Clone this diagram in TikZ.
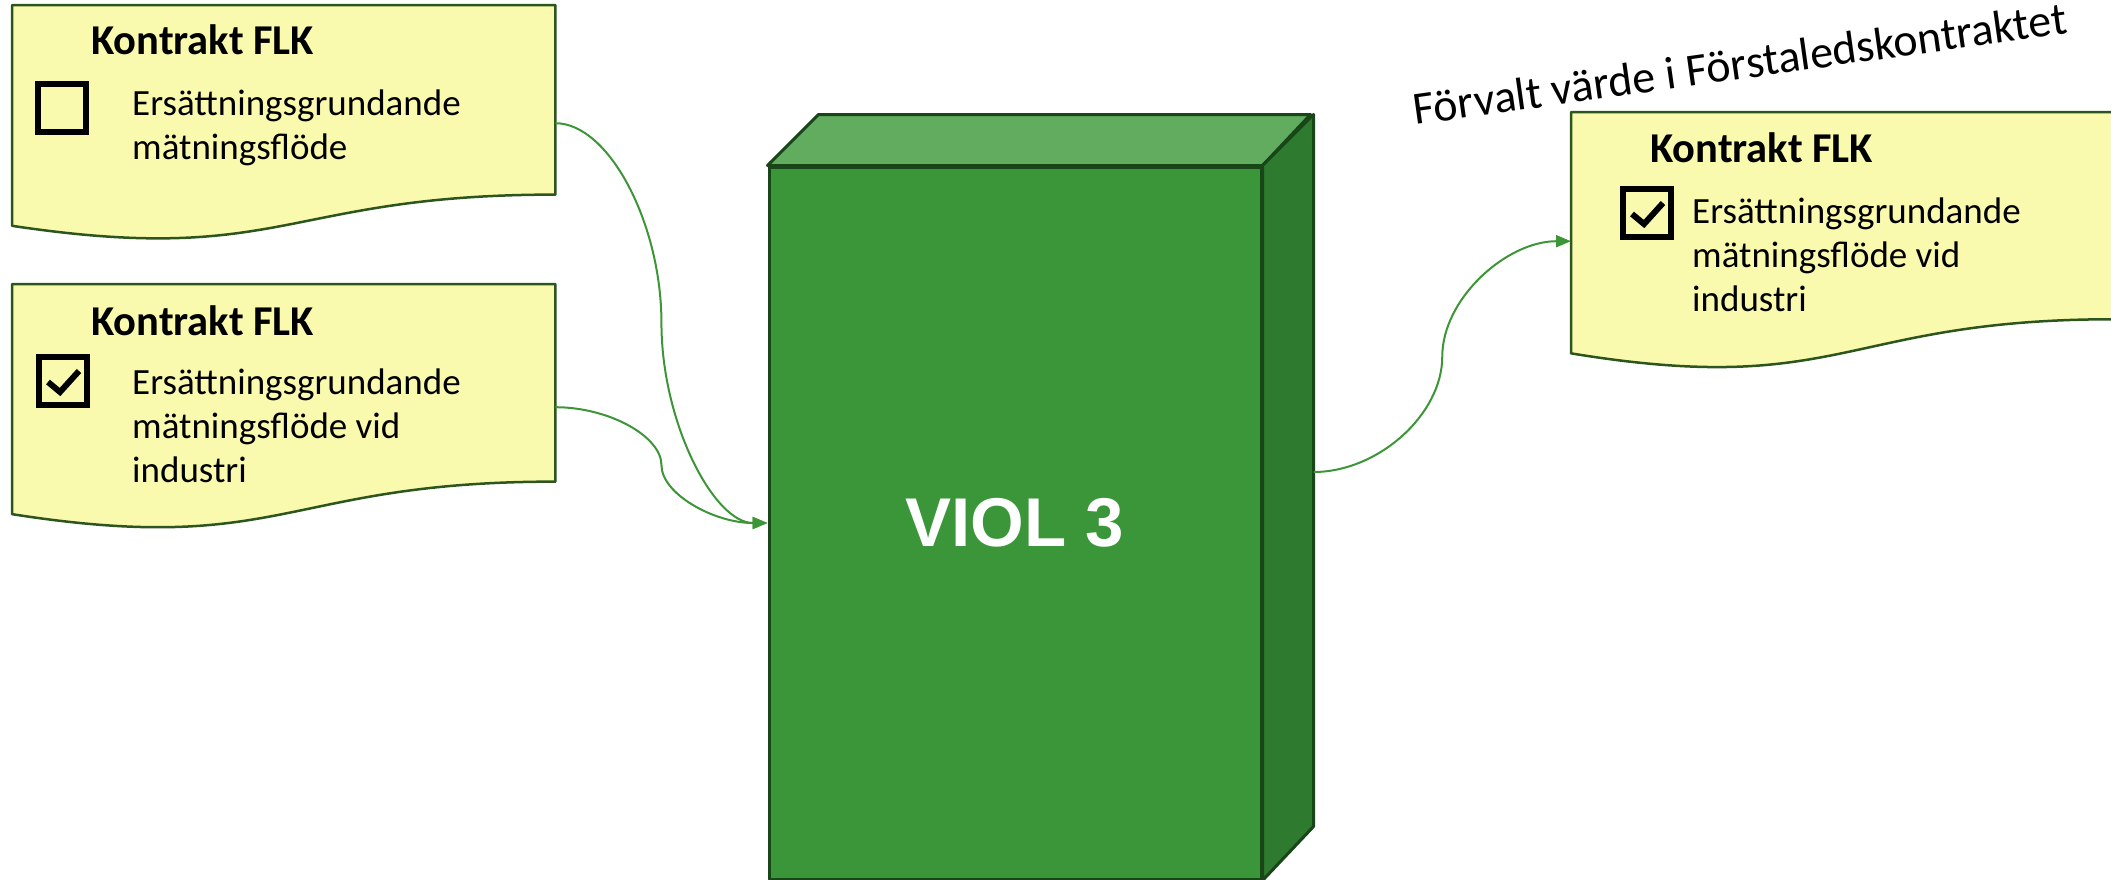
\documentclass[tikz,border=0pt]{standalone}
\usepackage{fontspec}
\setmainfont{Carlito}
\newfontfamily\arialfont{Liberation Sans}
\usetikzlibrary{arrows.meta,calc,positioning}

\definecolor{docfill}{RGB}{250,250,175}
\definecolor{docedge}{RGB}{45,85,30}
\definecolor{frontgreen}{RGB}{59,150,58}
\definecolor{topgreen}{RGB}{98,172,95}
\definecolor{sidegreen}{RGB}{46,122,46}
\definecolor{cubeedge}{RGB}{25,70,25}
\definecolor{linkgreen}{RGB}{60,150,55}

\begin{document}
\begin{tikzpicture}[x=1pt,y=-1pt, %
    docbox/.style={rectangle, draw=none, minimum width=543pt, inner sep=0pt, anchor=north west},
    docline/.style={draw=docedge, fill=docfill, line width=2.5pt, line join=round},
    head/.style={font=\bfseries\fontsize{42.5pt}{50pt}\selectfont, inner sep=0pt, anchor=base west},
    body/.style={font=\fontsize{37pt}{44pt}\selectfont, align=left, inner sep=0pt, anchor=base west},
    chkbox/.style={draw=black, line width=6.5pt, minimum size=48pt, inner sep=0pt},
    tick/.style={draw=black, line width=6pt},
    cubeface/.style={draw=cubeedge, line width=3pt, line join=round},
    conn/.style={draw=linkgreen, line width=2pt, -{Triangle[length=15pt,width=12pt]}}
  ]
  \useasboundingbox (0,0) rectangle (2111,879);

  % documents
  \node[docbox, minimum height=236pt] (doc1) at (12,5) {};
  \node[docbox, minimum height=246pt] (doc2) at (12,284) {};
  \node[docbox, minimum height=258pt] (doc3) at (1571,112) {};
  \foreach \d in {doc1,doc2,doc3}
    \draw[docline] (\d.north west) -- (\d.north east)
      -- ($(\d.north east)!0.802!(\d.south east)$)
      .. controls ($(\d.north)!0.802!(\d.south)$) and ($(\d.north)!1.107!(\d.south)$)
      .. ($(\d.north west)!0.934!(\d.south west)$) -- cycle;

  % base of a text block = its last line
  \node[head] (head1) at (91,54) {Kontrakt FLK};
  \node[chkbox] (box1) at (62,108) {};
  \node[body] (text1) at (132,159) {Ersättningsgrundande\\mätningsflöde};

  \node[head] (head2) at (91,335) {Kontrakt FLK};
  \node[chkbox] (box2) at (63,381) {};
  \draw[tick] ($(box2.center)+(-15,1)$) -- ++(12,10) -- ++(19,-21);
  \node[body] (text2) at (132,482) {Ersättningsgrundande\\mätningsflöde vid\\industri};

  \node[head] (head3) at (1650,162) {Kontrakt FLK};
  \node[chkbox] (box3) at (1647,213) {};
  \draw[tick] ($(box3.center)+(-15,1)$) -- ++(12,10) -- ++(19,-21);
  \node[body] (text3) at (1692,311) {Ersättningsgrundande\\mätningsflöde vid\\industri};

  \node[rotate=8, font=\fontsize{46pt}{55pt}\selectfont, anchor=base, inner sep=0pt]
    (preset) at (1742,79) {Förvalt värde i Förstaledskontraktet};

  % cube
  \node[cubeface, fill=frontgreen, minimum width=492pt, minimum height=712pt,
    text=white, font=\arialfont\bfseries\fontsize{69pt}{80pt}\selectfont] (viol) at (1015,523) {VIOL 3};
  \draw[cubeface, fill=topgreen] (viol.north west) -- ++(51,-51) -- ++(492,0) -- (viol.north east) -- cycle;
  \draw[cubeface, fill=sidegreen] (viol.north east) -- ++(51,-51) -- ++(0,712) -- (viol.south east) -- cycle;

  % connectors
  \coordinate (violside) at ($(viol.east)+(51,-51)$);
  \coordinate (mid1) at ($(doc1.east)!0.5!(viol.west)$);
  \coordinate (mid2) at ($(doc2.east)!0.5!(viol.west)$);
  \coordinate (mid3) at ($(violside)!0.5!(doc3.west)$);
  \draw[conn] (doc1.east) .. controls +(53.5,0) and +(0,-99.5) .. (mid1)
    .. controls +(0,99.5) and +(-53.5,0) .. (viol.west);
  \draw[conn] (doc2.east) .. controls +(53.5,0) and +(0,-28.75) .. (mid2)
    .. controls +(0,28.75) and +(-53.5,0) .. (viol.west);
  \draw[conn] (violside) .. controls +(64.75,0) and +(0,57.75) .. (mid3)
    .. controls +(0,-57.75) and +(-64.75,0) .. (doc3.west);
\end{tikzpicture}
\end{document}
